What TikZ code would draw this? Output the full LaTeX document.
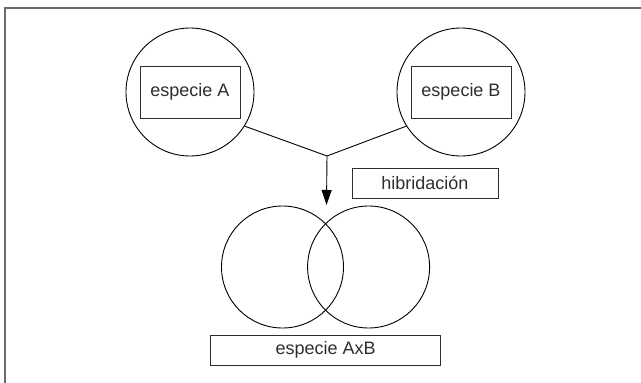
\documentclass[tikz,border=0pt]{standalone}
\usepackage{fontspec}
\setmainfont{Liberation Sans}
\usetikzlibrary{arrows.meta}
\definecolor{framegray}{HTML}{6A6A6A}
\definecolor{inkgray}{HTML}{2E2E2E}
\tikzset{
  species/.style={circle, draw=black, line width=0.9pt, inner sep=0pt, minimum size=#1},
  label box/.style={rectangle, draw=inkgray, line width=1pt, inner sep=0pt,
    minimum width=#1, minimum height=30pt, text=inkgray,
    font=\fontsize{18}{20}\selectfont},
  name box/.style={rectangle, draw=inkgray, line width=1pt, inner sep=0pt,
    minimum width=100pt, minimum height=52pt, text=inkgray,
    font=\fontsize{18}{20}\selectfont},
  link/.style={draw=black, line width=0.9pt},
  frameline/.style={draw=framegray, line width=2pt}
}
\begin{document}
\begin{tikzpicture}[x=1pt, y=-1pt]
  \useasboundingbox (0,0) rectangle (641,383);
  % open frame: left and top edges only
  \draw[frameline] (5,384) -- (5,8) -- (642,8);

  % parent species
  \node[species=128pt] (cA) at (190,92) {};
  \node[species=128pt] (cB) at (461,92) {};
  \node[name box] (bA) at (190,92) {especie A};
  \node[name box] (bB) at (461,92) {especie B};

  % hybridisation arrow
  \coordinate (j) at (327,156);
  \coordinate (tip) at (326.5,205);
  \draw[link] (cA.-32) -- (j) -- (cB.212);
  \draw[link, -{Triangle[length=15pt,width=10pt]}] (j) -- (tip);
  \node[label box=146pt] (hib) at (425,183) {hibridación};

  % hybrid species
  \node[species=122pt] (hL) at (282.5,267) {};
  \node[species=122pt] (hR) at (368.6,267) {};
  \node[label box=230pt] (hAB) at (325.6,350) {especie AxB};
\end{tikzpicture}
\end{document}
